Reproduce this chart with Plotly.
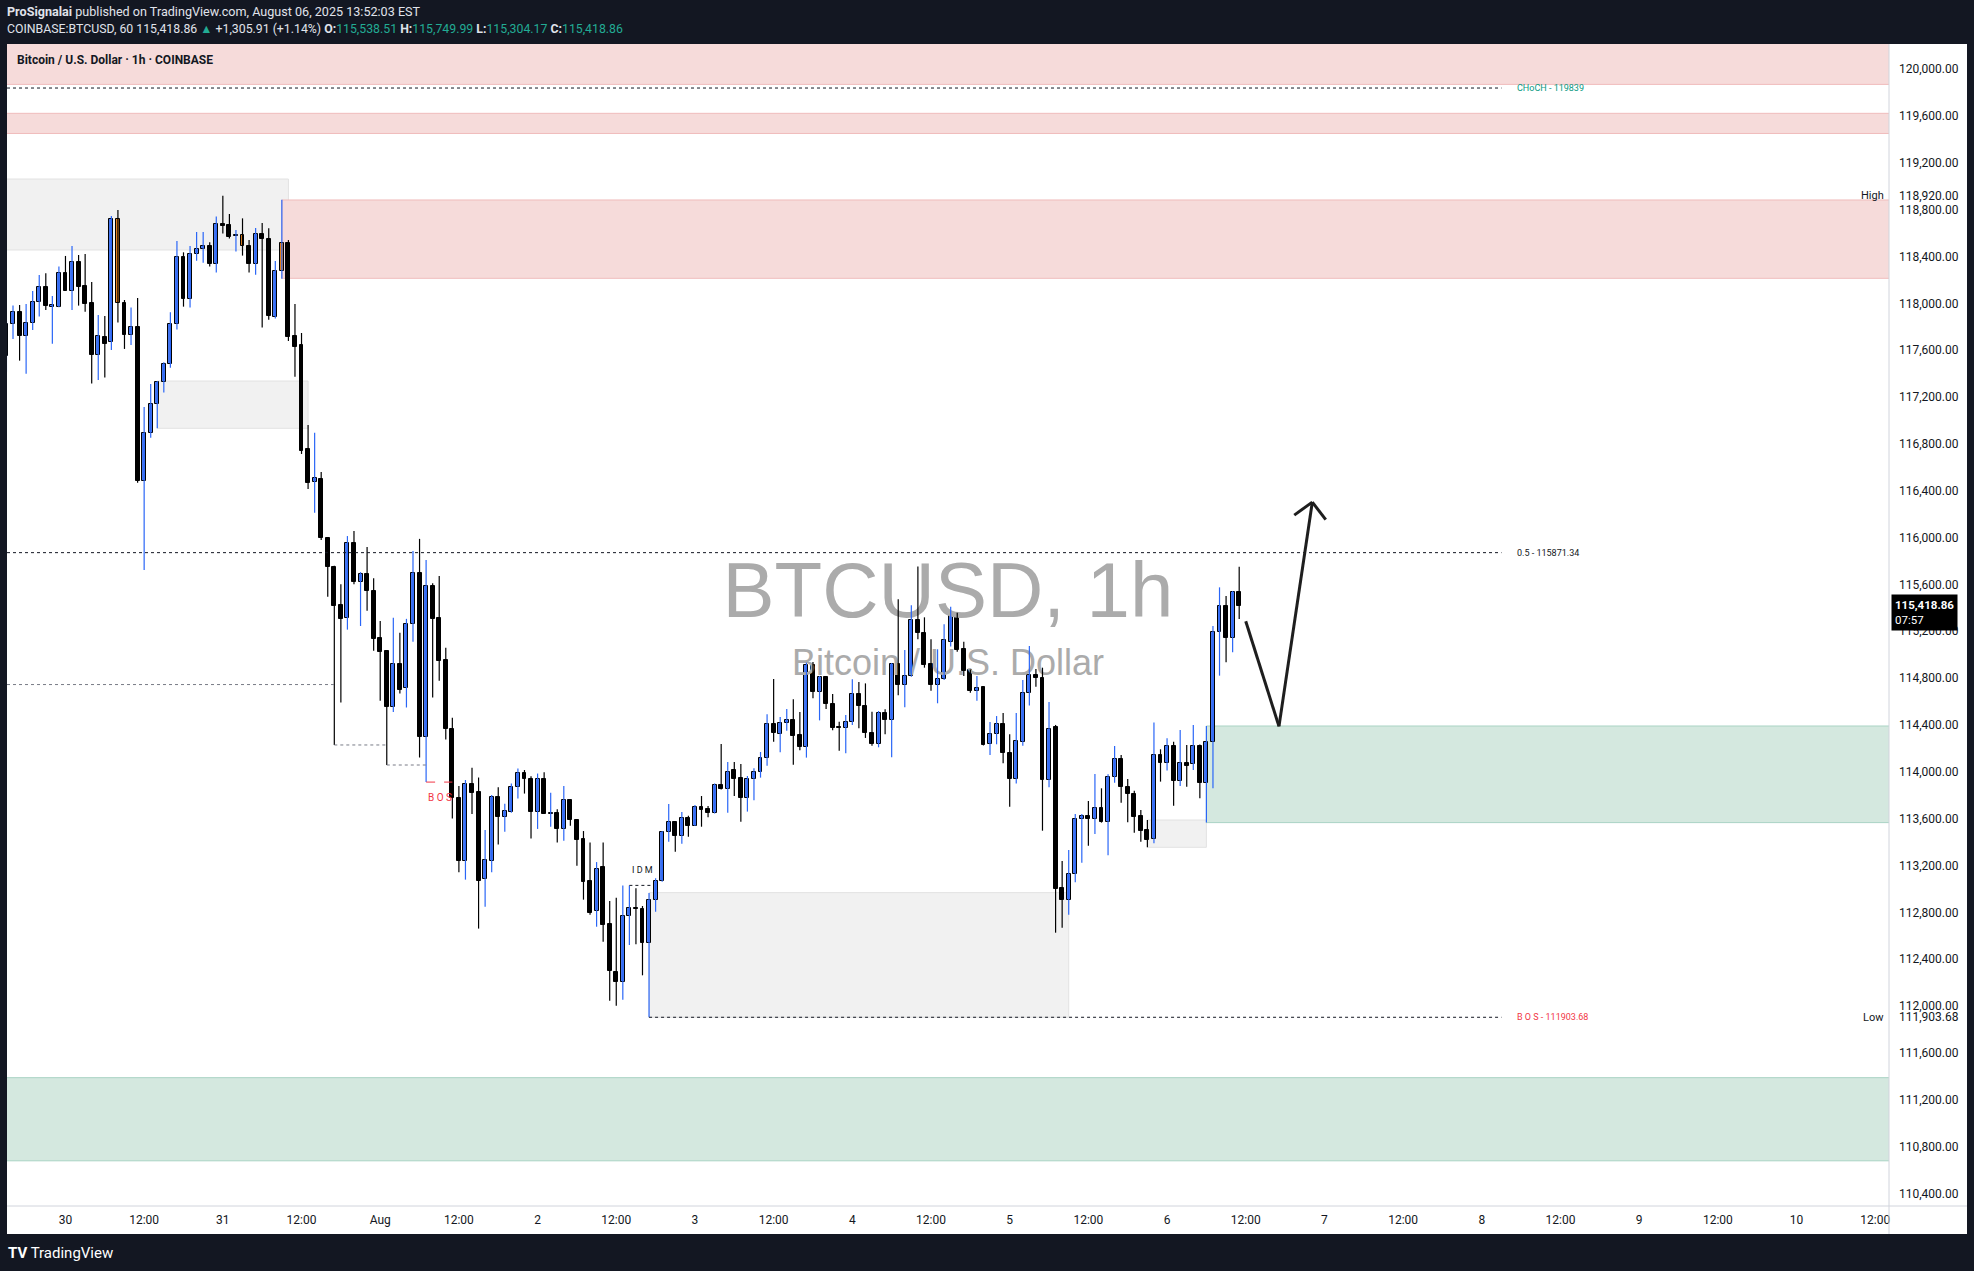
import pandas as pd
import plotly.graph_objects as go

# ---------------- data ----------------
times = pd.date_range("2025-07-29 15:00", periods=189, freq="h")

opens = [117554, 117821, 117924, 117724, 117830, 118009, 118137, 117966, 117966,
         118257, 118109, 118351, 118149, 118001, 117562, 117710, 117668, 118718, 118001,
         117733, 117796, 116486, 116890, 117138, 117326, 117480, 117821, 118393, 118040,
         118419, 118462, 118490, 118339, 118678, 118667, 118578, 118581, 118487, 118334,
         118590, 118547, 117884, 118274, 118513, 117722, 117645, 116754, 116478, 116500,
         115995, 115751, 115425, 115312, 115958, 115623, 115690, 115547, 115144, 115031,
         114555, 114918, 114714, 115260, 115696, 114296, 115586, 115315, 114955, 114366,
         113778, 113235, 113893, 113826, 113082, 113241, 113784, 113610, 113659, 113866,
         113991, 113936, 113659, 113936, 113643, 113649, 113515, 113756, 113588, 113424,
         113067, 112808, 113186, 112701, 112290, 112204, 112765, 112838, 112828, 112535,
         112902, 113070, 113483, 113574, 113449, 113603, 113540, 113697, 113680, 113645,
         113884, 113850, 114015, 113944, 113773, 113936, 113995, 114115, 114408, 114320,
         114417, 114439, 114314, 114209, 114909, 114684, 114810, 114576, 114380, 114377,
         114422, 114661, 114559, 114329, 114237, 114499, 114439, 114918, 114744, 114815,
         115293, 115182, 114918, 114738, 114790, 115111, 115350, 115049, 114870, 114693,
         114724, 114235, 114320, 114405, 114158, 113941, 114255, 114676, 114824, 114798,
         113930, 114380, 113005, 112902, 113124, 113594, 113622, 113594, 113688, 113574,
         113953, 114106, 113867, 113810, 113623, 113503, 113423, 114141, 114072, 114217,
         113924, 114072, 114067, 114217, 113907, 114252, 115191, 115413, 115140, 115538.51]

highs = [117850, 117981, 117986, 117995, 118106, 118243, 118257, 118063, 118314,
         118405, 118490, 118413, 118422, 118183, 117901, 117892, 118746, 118798, 118029,
         117964, 118046, 117115, 117312, 117337, 117497, 117924, 118533, 118436, 118490,
         118610, 118610, 118521, 118741, 118920, 118763, 118627, 118726, 118541, 118644,
         118687, 118641, 118362, 118885, 118541, 117995, 117747, 116962, 116896, 116560,
         116004, 115760, 115601, 116013, 116056, 115705, 115919, 115653, 115287, 115037,
         115315, 115187, 115306, 115885, 115989, 115809, 115611, 115672, 115059, 114461,
         113878, 113930, 114034, 113951, 113503, 113802, 113869, 113726, 113900, 114028,
         114015, 113961, 113985, 113997, 113820, 113680, 113878, 113760, 113595, 113494,
         113396, 113229, 113396, 112896, 112924, 113030, 113030, 113005, 112854, 112965,
         113090, 113494, 113725, 113578, 113657, 113625, 113716, 113793, 113708, 113899,
         114237, 114084, 114084, 114067, 113964, 114030, 114169, 114491, 114792, 114468,
         114536, 114619, 114511, 114932, 114938, 114818, 114818, 114664, 114428, 114485,
         114790, 114767, 114755, 114513, 114519, 114533, 114929, 115473, 115040, 115422,
         115752, 115319, 115131, 115046, 115259, 115410, 115359, 115111, 114873, 114818,
         114730, 114425, 114476, 114502, 114320, 114502, 114784, 115074, 114878, 114889,
         114596, 114400, 113238, 113332, 113640, 113640, 113751, 113981, 113859, 113978,
         114220, 114143, 113938, 113839, 113674, 113588, 114420, 114192, 114286, 114257,
         114357, 114229, 114400, 114232, 114390, 115245, 115575, 115501, 115544, 115749.99]

lows = [117417, 117696, 117511, 117400, 117773, 117887, 117944, 117656, 117966,
        118109, 117944, 117981, 117929, 117315, 117346, 117366, 117602, 117836, 117611,
        117645, 116469, 115723, 116853, 116933, 117238, 117451, 117776, 117972, 117964,
        118365, 118348, 118314, 118263, 118596, 118553, 118442, 118408, 118263, 118245,
        117793, 117861, 117870, 118211, 117679, 117374, 116714, 116415, 116213, 115980,
        115495, 114229, 114592, 115214, 115601, 115245, 115376, 115034, 114607, 114058,
        114510, 114668, 114549, 115110, 114122, 113912, 114635, 114778, 114275, 113601,
        113143, 113079, 113640, 112661, 112847, 113143, 113378, 113488, 113650, 113771,
        113814, 113430, 113512, 113640, 113530, 113396, 113412, 113540, 113198, 112908,
        112780, 112677, 112549, 112045, 112003, 112054, 112521, 112527, 112262, 111903.68,
        112805, 113062, 113403, 113318, 113386, 113446, 113538, 113531, 113611, 113643,
        113848, 113651, 113793, 113574, 113660, 113756, 113950, 114052, 114257, 114166,
        114351, 114061, 114183, 114121, 114627, 114439, 114536, 114354, 114180, 114158,
        114400, 114371, 114289, 114223, 114209, 114320, 114124, 114653, 114551, 114812,
        115131, 114889, 114693, 114585, 114784, 115069, 115026, 114818, 114676, 114607,
        114225, 114143, 114235, 114072, 113702, 113899, 114223, 114565, 114727, 113497,
        113867, 112626, 112669, 112780, 113056, 113224, 113369, 113469, 113566, 113287,
        113907, 113736, 113568, 113480, 113403, 113355, 113389, 113916, 114010, 113711,
        113879, 113873, 114015, 113773, 113566, 113859, 114821, 114935, 115020, 115304.17]

closes = [117821, 117924, 117724, 117830, 118009, 118137, 117981, 117986, 118257,
          118109, 118351, 118143, 117995, 117562, 117719, 117656, 118718, 118001, 117733,
          117796, 116483, 116890, 117138, 117326, 117480, 117821, 118393, 118040, 118419,
          118462, 118490, 118339, 118675, 118664, 118570, 118584, 118487, 118334, 118590,
          118547, 117890, 118274, 118513, 117716, 117631, 116742, 116469, 116506, 115995,
          115751, 115418, 115309, 115958, 115623, 115690, 115547, 115138, 115025, 114555,
          114918, 114702, 115260, 115696, 114296, 115586, 115309, 114949, 114369, 113775,
          113241, 113893, 113823, 113070, 113244, 113787, 113610, 113662, 113869, 113991,
          113936, 113659, 113936, 113643, 113646, 113512, 113756, 113591, 113421, 113061,
          112796, 113171, 112695, 112302, 112204, 112768, 112838, 112832, 112535, 112902,
          113070, 113483, 113574, 113455, 113603, 113540, 113697, 113677, 113645, 113884,
          113850, 113995, 113941, 113773, 113936, 113995, 114115, 114408, 114329, 114417,
          114439, 114309, 114209, 114909, 114684, 114810, 114576, 114377, 114377, 114422,
          114661, 114559, 114329, 114237, 114499, 114439, 114918, 114744, 114815, 115293,
          115182, 114915, 114738, 114790, 115126, 115345, 115040, 114864, 114693, 114713,
          114232, 114320, 114405, 114158, 113941, 114260, 114670, 114824, 114798, 113930,
          114363, 113002, 112902, 113124, 113594, 113622, 113594, 113688, 113574, 113953,
          114106, 113873, 113810, 113617, 113497, 113418, 114141, 114072, 114217, 113924,
          114072, 114053, 114217, 113907, 114252, 115191, 115413, 115140, 115533, 115418.86]

orange_times = ["2025-07-30 08:00", "2025-07-31 03:00", "2025-07-31 09:00"]

x_tick_times = pd.date_range("2025-07-30 00:00", periods=24, freq="12h")
x_tick_labels = ["30", "12:00", "31", "12:00", "Aug", "12:00", "2", "12:00", "3", "12:00",
                 "4", "12:00", "5", "12:00", "6", "12:00", "7", "12:00", "8", "12:00",
                 "9", "12:00", "10", "12:00"]
y_tick_values = [110400, 110800, 111200, 111600, 112000, 112400, 112800, 113200, 113600,
                 114000, 114400, 114800, 115200, 115600, 116000, 116400, 116800, 117200,
                 117600, 118000, 118400, 118800, 119200, 119600, 120000, 118920, 111903.68]

# zones: start, end (None = chart edge), low, high, kind
zone_start = [None, "2025-07-30 14:00", None, None, "2025-07-31 09:00",
              "2025-08-02 17:00", "2025-08-05 21:00", "2025-08-06 06:00", None]
zone_end = ["2025-07-31 10:00", "2025-07-31 13:00", None, None, None,
            "2025-08-05 09:00", "2025-08-06 06:00", None, None]
zone_low = [118456, 116933, 119870, 119451, 118214, 111903.68, 113355, 113566, 110678]
zone_high = [119062, 117337, 120400, 119623, 118883, 112968, 113588, 114391, 111388]
zone_kind = ["gray", "gray", "pink", "pink", "pink", "gray", "gray", "green", "green"]

# horizontal levels: start, end, price, style
level_start = [None, None, "2025-08-02 17:00", None, "2025-07-31 17:00",
               "2025-08-01 01:00", "2025-08-01 07:00", "2025-08-02 14:00"]
level_end = ["2025-08-08 03:00", "2025-08-08 03:00", "2025-08-08 03:00", "2025-07-31 17:00",
             "2025-08-01 01:00", "2025-08-01 07:00", "2025-08-01 11:00", "2025-08-02 17:30"]
level_price = [119839, 115871.34, 111903.68, 114745, 114229, 114058, 113912, 113030]
level_kind = ["dark", "dark", "dark", "gray", "gray", "gray", "red", "dark"]

level_text_time = "2025-08-08 05:00"
level_labels = ["CHoCH - 119839", "0.5 - 115871.34", "B O S - 111903.68"]
level_label_prices = [119839, 115871.34, 111903.68]
level_label_colors = ["#089981", "#131722", "#f23645"]

# hand-drawn arrow (time, price)
arrow_times = ["2025-08-06 12:00", "2025-08-06 17:04", "2025-08-06 22:09"]
arrow_prices = [115286, 114388, 116303]
arrow_head_times = ["2025-08-06 19:24", "2025-08-06 22:09", "2025-08-07 00:12"]
arrow_head_prices = [116192, 116303, 116153]

last_price = 115418.86

# ---------------- geometry ----------------
W, H = 1974, 1271
x_left = pd.Timestamp("2025-07-29 15:05")
x_right = pd.Timestamp("2025-08-10 14:06")
y_low, y_high = 110292, 120215
ML, MR, MT, MB = 7, 85, 44, 65

UP_FILL = "#4677f0"
UP_WICK = "#2a66f7"
DOWN = "#000000"
ORANGE = "#e3801d"

fig = go.Figure()

# watermark (below candles)
x_mid = x_left + (x_right - x_left) / 2
fig.add_trace(go.Scatter(x=[x_mid], y=[y_low + 0.5241 * (y_high - y_low)], mode="text",
                         text=["BTCUSD, 1h"], hoverinfo="skip", showlegend=False,
                         textfont=dict(size=78, color="#ababab", family="Liberation Sans, Arial")))
fig.add_trace(go.Scatter(x=[x_mid], y=[y_low + 0.4647 * (y_high - y_low)], mode="text",
                         text=["Bitcoin / U.S. Dollar"], hoverinfo="skip", showlegend=False,
                         textfont=dict(size=36, color="#ababab", family="Liberation Sans, Arial")))

orange_set = set(pd.to_datetime(orange_times))
up_idx, down_idx, orange_idx = [], [], []
for i, t in enumerate(times):
    if t in orange_set:
        orange_idx.append(i)
    elif closes[i] >= opens[i]:
        up_idx.append(i)
    else:
        down_idx.append(i)


def wick_xy(sel):
    xs, ys = [], []
    for i in sel:
        xs += [times[i], times[i], None]
        ys += [lows[i], highs[i], None]
    return xs, ys


up_all = [i for i in range(len(times)) if closes[i] >= opens[i]]
dn_all = [i for i in range(len(times)) if closes[i] < opens[i]]
for sel, col in ((up_all, UP_WICK), (dn_all, DOWN)):
    xs, ys = wick_xy(sel)
    fig.add_trace(go.Scatter(x=xs, y=ys, mode="lines", line=dict(color=col, width=1.2),
                             hoverinfo="skip", showlegend=False))

bar_w = 0.6 * 3600 * 1000
for sel, col in ((up_idx, UP_FILL), (down_idx, DOWN), (orange_idx, ORANGE)):
    fig.add_trace(go.Bar(
        x=[times[i] for i in sel],
        y=[abs(closes[i] - opens[i]) for i in sel],
        base=[min(opens[i], closes[i]) for i in sel],
        width=bar_w, marker=dict(color=col, line=dict(color="#000000", width=1)),
        hoverinfo="skip", showlegend=False))

shapes = []
# white panel + separators (paper coords)
pw = W - ML - MR
ph = H - MT - MB
x_panel_r = (1967 - ML) / pw
y_panel_b = -(1234 - (H - MB)) / ph
shapes.append(dict(type="rect", xref="paper", yref="paper", x0=0, x1=x_panel_r,
                   y0=y_panel_b, y1=1, fillcolor="#ffffff", line=dict(width=0), layer="below"))
shapes.append(dict(type="line", xref="paper", yref="paper", x0=1, x1=1, y0=y_panel_b, y1=1,
                   line=dict(color="#d1d4dc", width=1)))
shapes.append(dict(type="line", xref="paper", yref="paper", x0=0, x1=x_panel_r, y0=0, y1=0,
                   line=dict(color="#d1d4dc", width=1)))

zone_style = {"gray": ("#f1f1f1", "#e2e2e2"), "pink": ("#f6dbda", "#f0bcbc"),
              "green": ("#d4e8df", "#a9d3c4")}
for s, e, lo, hi, k in zip(zone_start, zone_end, zone_low, zone_high, zone_kind):
    fill, edge = zone_style[k]
    shapes.append(dict(type="rect", xref="x", yref="y",
                       x0=pd.Timestamp(s) if s else x_left - pd.Timedelta(hours=2),
                       x1=pd.Timestamp(e) if e else x_right + pd.Timedelta(hours=2),
                       y0=lo, y1=min(hi, y_high + 50), fillcolor=fill,
                       line=dict(color=edge, width=1), layer="below"))

level_style = {"dark": ("#131722", "dot"), "gray": ("#787b86", "dot"), "red": ("#f23645", "dash")}
for s, e, p, k in zip(level_start, level_end, level_price, level_kind):
    col, dash = level_style[k]
    shapes.append(dict(type="line", xref="x", yref="y",
                       x0=pd.Timestamp(s) if s else x_left, x1=pd.Timestamp(e),
                       y0=p, y1=p, line=dict(color=col, width=1, dash=dash)))

for xs_, ys_ in ((arrow_times, arrow_prices), (arrow_head_times, arrow_head_prices)):
    for a in range(len(xs_) - 1):
        shapes.append(dict(type="line", xref="x", yref="y",
                           x0=pd.Timestamp(xs_[a]), x1=pd.Timestamp(xs_[a + 1]),
                           y0=ys_[a], y1=ys_[a + 1],
                           line=dict(color="#1e1e1e", width=3)))

ann = []
FONT = "Roboto, Arial, sans-serif"


def pyx(ypix):
    return ((H - MB) - ypix) / ph


def pxx(xpix):
    return (xpix - ML) / pw


ann.append(dict(xref="paper", yref="paper", x=pxx(5), y=pyx(12), xanchor="left", yanchor="middle",
                showarrow=False, font=dict(family=FONT, size=12.6, color="#e0e3eb"),
                text="<b>ProSignalai</b> published on TradingView.com, August 06, 2025 13:52:03 EST"))
teal = "#22ab94"
ann.append(dict(xref="paper", yref="paper", x=pxx(5), y=pyx(29), xanchor="left", yanchor="middle",
                showarrow=False, font=dict(family=FONT, size=12.3, color="#e0e3eb"),
                text=("COINBASE:BTCUSD, 60 115,418.86 <span style='color:%s'>▲</span> +1,305.91 (+1.14%%) "
                      "<b>O:</b><span style='color:%s'>115,538.51</span> "
                      "<b>H:</b><span style='color:%s'>115,749.99</span> "
                      "<b>L:</b><span style='color:%s'>115,304.17</span> "
                      "<b>C:</b><span style='color:%s'>115,418.86</span>") % (teal, teal, teal, teal, teal)))
ann.append(dict(xref="paper", yref="paper", x=pxx(15), y=pyx(60), xanchor="left", yanchor="middle",
                showarrow=False, font=dict(family=FONT, size=12, color="#131722"),
                text="<b>Bitcoin / U.S. Dollar · 1h · COINBASE</b>"))
for lbl, p, c in zip(level_labels, level_label_prices, level_label_colors):
    ann.append(dict(x=pd.Timestamp(level_text_time), y=p, xanchor="left", yanchor="middle",
                    showarrow=False, text=lbl, font=dict(family=FONT, size=9, color=c)))
ann.append(dict(x=pd.Timestamp("2025-08-01 07:00"), y=113780, xanchor="left", yanchor="middle",
                showarrow=False, text="B O S", font=dict(family=FONT, size=10, color="#f23645")))
ann.append(dict(x=pd.Timestamp("2025-08-02 16:00"), y=113165, xanchor="center", yanchor="middle",
                showarrow=False, text="I D M", font=dict(family=FONT, size=9, color="#131722")))
ann.append(dict(xref="paper", yref="y", x=0.9985, y=118920, xanchor="right", yanchor="middle",
                showarrow=False, text="High", font=dict(family=FONT, size=11, color="#131722")))
ann.append(dict(xref="paper", yref="y", x=0.9985, y=111903.68, xanchor="right", yanchor="middle",
                showarrow=False, text="Low", font=dict(family=FONT, size=11, color="#131722")))
ann.append(dict(xref="paper", yref="y", x=1.001, y=last_price, xanchor="left", yanchor="middle",
                yshift=-7, showarrow=False, align="left", bgcolor="#000000", borderpad=3,
                text="<b>{:,.2f}</b><br>07:57".format(last_price),
                font=dict(family=FONT, size=11.5, color="#ffffff")))
ann.append(dict(xref="paper", yref="paper", x=pxx(6), y=pyx(1253), xanchor="left", yanchor="middle",
                showarrow=False, text="<b>TV</b> TradingView",
                font=dict(family=FONT, size=15, color="#ffffff")))

fig.update_layout(
    width=W, height=H, autosize=False,
    margin=dict(l=ML, r=MR, t=MT, b=MB, pad=0),
    paper_bgcolor="#131722", plot_bgcolor="#ffffff",
    barmode="overlay", bargap=0, hovermode=False, showlegend=False,
    shapes=shapes, annotations=ann,
    xaxis=dict(type="date", range=[x_left, x_right], showgrid=False, zeroline=False,
               tickvals=list(x_tick_times), ticktext=x_tick_labels, ticks="",
               tickfont=dict(family=FONT, size=12, color="#131722"), ticklabelstandoff=5,
               fixedrange=True),
    yaxis=dict(side="right", range=[y_low, y_high], showgrid=False, zeroline=False,
               tickvals=y_tick_values, ticktext=["{:,.2f}".format(v) for v in y_tick_values],
               ticks="", tickfont=dict(family=FONT, size=12, color="#131722"),
               ticklabelstandoff=9, fixedrange=True),
)

fig.write_html("out.html", config={"displayModeBar": False},
               post_script="document.body.style.margin='0';document.body.style.overflow='hidden';")
